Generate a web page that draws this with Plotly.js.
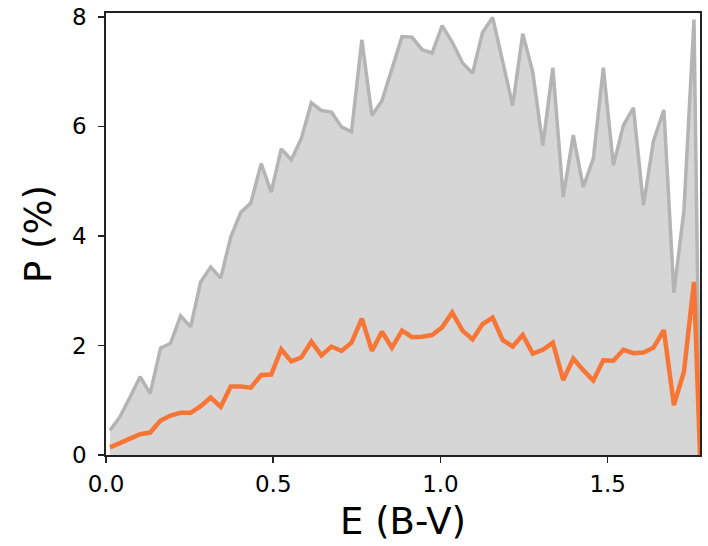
<!DOCTYPE html>
<html>
<head>
<meta charset="utf-8">
<script src="https://cdn.plot.ly/plotly-3.0.1.min.js"></script>
<style>html,body{margin:0;padding:0;background:#fff;}#chart{width:708px;height:546px;}</style>
</head>
<body>
<div id="chart"></div>
<script>
// E(B-V) sample positions
const ebv = [0.012,0.042,0.072,0.102,0.132,0.163,0.193,0.223,0.253,0.283,
  0.313,0.343,0.373,0.403,0.433,0.464,0.494,0.524,0.554,0.584,
  0.614,0.644,0.674,0.704,0.734,0.765,0.795,0.825,0.855,0.885,
  0.915,0.945,0.975,1.005,1.035,1.066,1.096,1.126,1.156,1.186,
  1.216,1.246,1.276,1.306,1.336,1.367,1.397,1.427,1.457,1.487,
  1.517,1.547,1.577,1.607,1.637,1.668,1.698,1.728,1.758,1.776];

// upper envelope (gray)
const pMax = [0.45,0.70,1.06,1.43,1.12,1.95,2.04,2.54,2.34,3.16,
  3.43,3.23,3.98,4.43,4.60,5.32,4.80,5.59,5.39,5.78,
  6.43,6.29,6.26,5.99,5.90,7.58,6.20,6.47,7.05,7.64,
  7.63,7.40,7.34,7.84,7.54,7.16,6.97,7.72,7.99,7.18,
  6.38,7.69,6.99,5.65,7.07,4.71,5.84,4.89,5.41,7.07,
  5.29,6.02,6.34,4.56,5.74,6.30,2.96,4.47,7.95,0.0];

// typical value (orange)
const pMean = [0.14,0.21,0.30,0.38,0.41,0.63,0.72,0.77,0.77,0.89,
  1.05,0.88,1.25,1.25,1.23,1.46,1.47,1.93,1.71,1.78,
  2.07,1.82,1.98,1.90,2.05,2.49,1.90,2.25,1.96,2.27,
  2.15,2.16,2.19,2.33,2.60,2.27,2.11,2.39,2.51,2.10,
  1.98,2.19,1.85,1.92,2.05,1.37,1.76,1.55,1.36,1.73,
  1.72,1.92,1.86,1.87,1.96,2.28,0.91,1.52,3.16,0.0];

const xTicks = [0, 0.5, 1.0, 1.5];
const xTickText = ['0.0', '0.5', '1.0', '1.5'];
const yTicks = [0, 2, 4, 6, 8];

const font = 'DejaVu Sans, sans-serif';

const traces = [
  {x: ebv, y: pMax, type: 'scatter', mode: 'lines', fill: 'tozeroy',
   fillcolor: '#d6d6d6', line: {color: '#b4b4b4', width: 3.5}, hoverinfo: 'skip'},
  {x: ebv, y: pMean, type: 'scatter', mode: 'lines',
   line: {color: '#f77535', width: 4.5}, hoverinfo: 'skip'}
];

const layout = {
  width: 708, height: 546,
  margin: {l: 106, r: 8, t: 13, b: 91},
  paper_bgcolor: '#ffffff', plot_bgcolor: '#ffffff',
  showlegend: false,
  font: {family: font, color: '#000000'},
  xaxis: {
    range: [0, 1.776], tickvals: xTicks, ticktext: xTickText,
    showgrid: false, zeroline: false,
    showline: true, linecolor: '#222222', linewidth: 1.8, mirror: true,
    ticks: 'outside', ticklen: 6, tickwidth: 1.5, tickcolor: '#222222',
    ticklabelstandoff: 2,
    tickfont: {family: font, size: 23, color: '#000'},
    title: {text: 'E (B-V)', font: {family: font, size: 37, color: '#000'}, standoff: 12}
  },
  yaxis: {
    range: [0, 8.07], tickvals: yTicks,
    showgrid: false, zeroline: false,
    showline: true, linecolor: '#222222', linewidth: 1.8, mirror: true,
    ticks: 'outside', ticklen: 6, tickwidth: 1.5, tickcolor: '#222222',
    ticklabelstandoff: 7,
    tickfont: {family: font, size: 23, color: '#000'},
    title: {text: 'P (%)', font: {family: font, size: 37, color: '#000'}, standoff: 9}
  }
};

Plotly.newPlot('chart', traces, layout, {staticPlot: true, displayModeBar: false});
</script>
</body>
</html>
